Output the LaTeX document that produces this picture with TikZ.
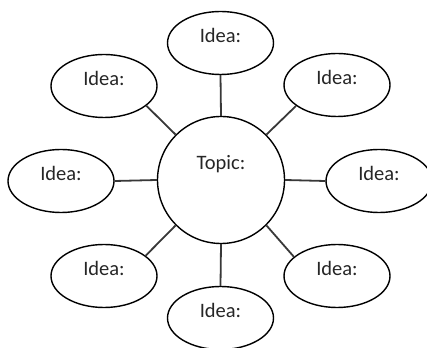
\documentclass[tikz,border=0pt]{standalone}
\usepackage{fontspec}
\setmainfont{Carlito}
\usetikzlibrary{shapes.geometric}
\begin{document}
\begin{tikzpicture}[x=1pt,y=1pt,
  idea/.style={draw=black,line width=1.4pt,ellipse,inner sep=0pt,
    minimum width=106pt,minimum height=63pt,text=black!85,
    font=\fontsize{20.5}{24}\selectfont,text height=14pt,text depth=15pt},
  topic/.style={draw=black,line width=1.4pt,circle,inner sep=0pt,
    minimum size=127pt,text=black!85,
    font=\fontsize{20.5}{24}\selectfont,text height=14pt,text depth=35pt},
  link/.style={draw=black!78,line width=1.8pt}]
\clip (0,0) rectangle (427,347);
\useasboundingbox (0,0) rectangle (427,347);
\node[topic] (c) at (221,167) {Topic:};
\node[idea] (t) at (220.5,304) {Idea:};
\node[idea] (ul) at (104,261) {Idea:};
\node[idea] (ur) at (337,262) {Idea:};
\node[idea] (l) at (61,166) {Idea:};
\node[idea] (r) at (379,166) {Idea:};
\node[idea] (ll) at (104,71) {Idea:};
\node[idea] (b) at (220.5,29) {Idea:};
\node[idea] (lr) at (337,71) {Idea:};
\draw[link] (c.90) -- (t.270);
\draw[link] (c.135) -- (ul.335);
\draw[link] (c.45) -- (ur.207);
\draw[link] (c.180) -- (l.0);
\draw[link] (c.0) -- (r.180);
\draw[link] (c.225) -- (ll.26);
\draw[link] (c.315) -- (lr.156);
\draw[link] (c.270) -- (b.90);
\end{tikzpicture}
\end{document}
